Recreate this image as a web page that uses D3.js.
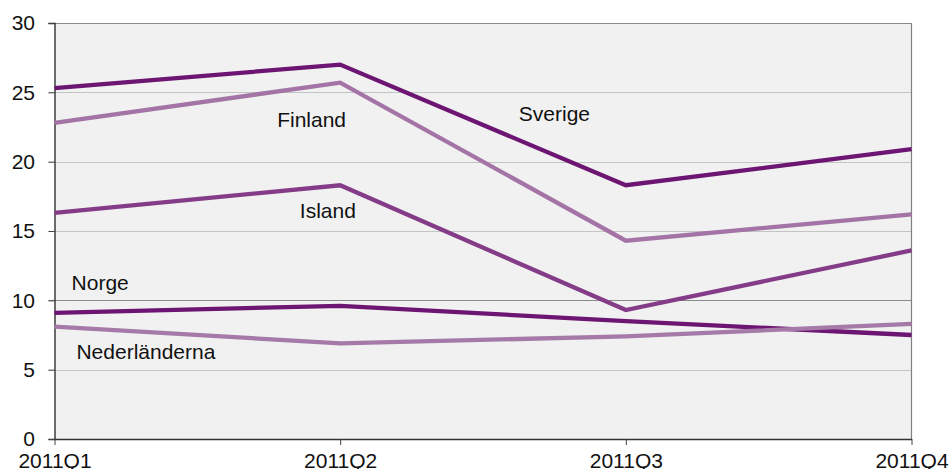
<!DOCTYPE html>
<html><head><meta charset="utf-8">
<script src="https://cdn.jsdelivr.net/npm/d3@7"></script>
<style>body{margin:0;background:#fff;} text{font-family:"Liberation Sans",Arial,sans-serif;}</style>
</head><body><svg id="c" width="950" height="469"></svg>
<script>
const categories = ["2011Q1","2011Q2","2011Q3","2011Q4"];
const yTicks = [0,5,10,15,20,25,30];
const sverige = [25.3,27.0,18.3,20.9];
const finland = [22.8,25.7,14.3,16.2];
const island = [16.3,18.3,9.3,13.6];
const norge = [9.1,9.6,8.5,7.5];
const nederlanderna = [8.1,6.9,7.4,8.3];
const seriesNames = ["Sverige","Finland","Island","Norge","Nederländerna"];
const seriesColors = ["#6c1572","#a474a6","#853c88","#6c1572","#a57aa8"];
const seriesData = [sverige,finland,island,norge,nederlanderna];
const labelPos = [[1.75,23.3],[0.9,22.9],[0.957,16.35],[0.16,11.15],[0.32,6.2]]; // [category index, value]

const svg = d3.select("#c");
const L=54.5,R=911.5,T=23,B=439;
const x = d3.scalePoint().domain(d3.range(categories.length)).range([L,R]);
const y = d3.scaleLinear().domain([0,30]).range([B,T]);

svg.append("rect").attr("x",L).attr("y",T).attr("width",R-L).attr("height",B-T).attr("fill","#f1f1f1");
// gridlines
yTicks.filter(v=>v>0).forEach(v=>{
  svg.append("line").attr("x1",L-6).attr("x2",R).attr("y1",Math.round(y(v))+0.5).attr("y2",Math.round(y(v))+0.5)
    .attr("stroke", v===30||v===10 ? "#8a8a8a" : "#c4c4c4").attr("stroke-width",1.2);
});
// right border
svg.append("line").attr("x1",R).attr("x2",R).attr("y1",T).attr("y2",B).attr("stroke","#808080").attr("stroke-width",1.2);
// y axis
const ya = svg.append("g").attr("transform",`translate(${L},0)`).call(d3.axisLeft(y).tickValues(yTicks).tickSize(6).tickPadding(13.5));
ya.select(".domain").attr("stroke","#222").attr("stroke-width",1.3);
ya.selectAll(".tick line").attr("stroke","#444");
ya.selectAll("text").attr("font-size",21).attr("fill","#111").style("font-family","Liberation Sans, Arial, sans-serif");
// x axis
const xa = svg.append("g").attr("transform",`translate(0,${B})`).call(d3.axisBottom(x).tickFormat(i=>categories[i]).tickSize(6).tickPadding(8).tickSizeOuter(0));
xa.select(".domain").attr("stroke","#333").attr("stroke-width",1.5);
xa.selectAll(".tick line").attr("stroke","#444");
xa.selectAll("text").attr("font-size",21).attr("fill","#111").style("font-family","Liberation Sans, Arial, sans-serif");

const line = d3.line().x((d,i)=>x(i)).y(d=>y(d));
seriesData.forEach((s,k)=>{
  svg.append("path").datum(s).attr("d",line).attr("fill","none").attr("stroke",seriesColors[k]).attr("stroke-width",4.3).attr("stroke-linejoin","miter");
});
seriesNames.forEach((n,k)=>{
  const p=labelPos[k];
  const px = L + p[0]*(x.step());
  svg.append("text").attr("x",px).attr("y",y(p[1])).attr("text-anchor","middle").attr("dominant-baseline","middle")
    .attr("font-size",21).attr("fill","#111").text(n);
});
</script></body></html>
